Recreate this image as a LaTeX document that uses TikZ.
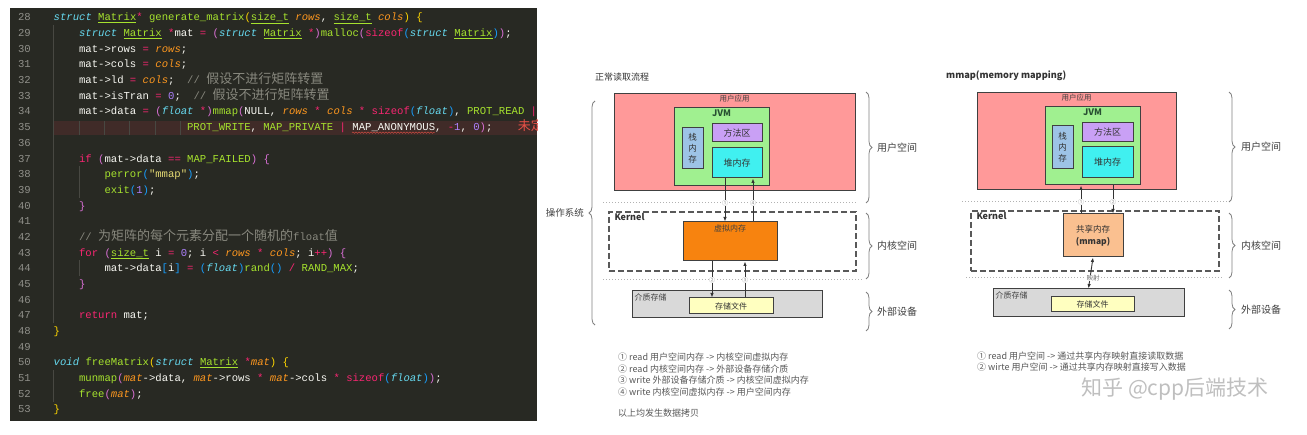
\documentclass[tikz,border=0pt]{standalone}
\usepackage{fontspec}
\setmonofont{Liberation Mono}
\newfontfamily\cjk{Noto Sans CJK SC}
\usetikzlibrary{arrows.meta,decorations.pathreplacing,decorations.pathmorphing}

% 代码配色
\definecolor{codebg}{RGB}{40,41,35}
\definecolor{hlbg}{RGB}{64,43,40}
\definecolor{cTxt}{RGB}{248,248,242}
\definecolor{cNum}{RGB}{144,144,138}
\definecolor{cGuide}{RGB}{72,72,66}
\definecolor{cKey}{RGB}{102,217,239}
\definecolor{cFun}{RGB}{166,226,46}
\definecolor{cOp}{RGB}{249,38,114}
\definecolor{cArg}{RGB}{253,151,31}
\definecolor{cLit}{RGB}{174,129,255}
\definecolor{cCom}{RGB}{136,136,126}
\definecolor{cStr}{RGB}{230,219,116}
\definecolor{cErr}{RGB}{230,80,70}
\definecolor{brY}{RGB}{255,215,0}
\definecolor{brM}{RGB}{218,112,214}
\definecolor{brB}{RGB}{23,159,255}
% 示意图配色
\definecolor{appRed}{RGB}{255,153,153}
\definecolor{jvmGreen}{RGB}{160,240,144}
\definecolor{jvmText}{RGB}{40,80,50}
\definecolor{stkBlue}{RGB}{157,195,230}
\definecolor{mthPurple}{RGB}{201,160,245}
\definecolor{heapCyan}{RGB}{64,240,240}
\definecolor{vmOrange}{RGB}{247,131,15}
\definecolor{shmOrange}{RGB}{250,192,144}
\definecolor{diskGray}{RGB}{217,217,217}
\definecolor{fileYellow}{RGB}{255,255,192}

\newcommand\codetype{\ttfamily\fontsize{10.6}{12}\selectfont}
\newcommand\Zh[1]{{\cjk\fontsize{13}{13}\selectfont #1}}
\newcommand\Ckw[1]{\textcolor{cKey}{\itshape #1}}
\newcommand\Cty[1]{\textcolor{cFun}{\underline{#1}}}
\newcommand\Cfn[1]{\textcolor{cFun}{#1}}
\newcommand\Cop[1]{\textcolor{cOp}{#1}}
\newcommand\Carg[1]{\textcolor{cArg}{\itshape #1}}
\newcommand\Clit[1]{\textcolor{cLit}{#1}}
\newcommand\Ccom[1]{\textcolor{cCom}{#1}}
\newcommand\Cstr[1]{\textcolor{cStr}{#1}}
\newcommand\pY[1]{\textcolor{brY}{#1}}
\newcommand\pM[1]{\textcolor{brM}{#1}}
\newcommand\pB[1]{\textcolor{brB}{#1}}

\begin{document}
\begin{tikzpicture}[x=1pt, y=-1pt,
  code/.style={anchor=base west, inner sep=0pt, font=\codetype, text=cTxt},
  lnum/.style={anchor=base east, inner sep=0pt, font=\codetype, text=cNum},
  guide/.style={draw=cGuide, line width=0.6pt},
  box/.style={draw=black!75, line width=1pt, inner sep=0pt, font=\cjk\fontsize{9}{9}\selectfont, text=black!80},
  lbl/.style={inner sep=1.5pt, font=\cjk\fontsize{7.5}{7.5}\selectfont, text=black!75},
  kbox/.style={draw=black!65, line width=1.4pt, dash pattern=on 6pt off 3pt},
  ktxt/.style={anchor=north west, inner xsep=6pt, inner ysep=2pt, font=\cjk\bfseries\fontsize{9}{9}\selectfont, text=black!80},
  sep/.style={draw=black!30, line width=1pt, dotted},
  arr/.style={-{Latex[length=4.5pt,width=3.5pt]}, line width=0.9pt, draw=black!80},
  cnum/.style={fill=white, inner sep=0.4pt, font=\cjk\fontsize{6}{6}\selectfont, text=black!45},
  brc/.style={decorate, decoration={brace, amplitude=6pt}, draw=black!50, line width=0.8pt},
  side/.style={anchor=west, inner sep=0pt, font=\cjk\fontsize{10}{10}\selectfont, text=black!75},
  leg/.style={anchor=west, inner sep=0pt, align=left, font=\cjk\fontsize{9}{11.7}\selectfont, text=black!65},
  ttl/.style={anchor=west, inner sep=0pt, font=\cjk\fontsize{9}{9}\selectfont, text=black!80}
]
  \def\lh{15.68}
  \fill[white] (0,0) rectangle (1307,435);
  \useasboundingbox (0,0) rectangle (1307,435);

  % 代码截图
  \begin{scope}
    \clip (10,8) rectangle (537,421.5);
    \fill[codebg] (10,8) rectangle (537,421.5);
    \fill[hlbg] (53.5,121.5) rectangle (537,134.6);
    \draw[guide] (53.5,25) -- (53.5,323); \draw[guide] (53.5,370) -- (53.5,402);
    \draw[guide] (78.9,166) -- (78.9,198); \draw[guide] (78.9,260) -- (78.9,276);
    \foreach \gx in {78.9,104.3,129.7,155.1,180.5}
      \draw[guide] (\gx,121.5) -- (\gx,134.6);
    \foreach \n in {28,...,53}
      \node[lnum] (n\n) at (31,{20.9+(\n-28)*\lh}) {\n};

    \node[code] (c28) at (53.5,{20.9+0*\lh}) {\Ckw{struct} \Cty{Matrix}\Cop{*} \Cfn{generate\_matrix}\pY{(}\Cty{size\_t} \Carg{rows}, \Cty{size\_t} \Carg{cols}\pY{)} \pY{\{}};
    \node[code] (c29) at (78.9,{20.9+1*\lh}) {\Ckw{struct} \Cty{Matrix} \Cop{*}mat \Cop{=} \pM{(}\Ckw{struct} \Cty{Matrix} \Cop{*}\pM{)}\Cfn{malloc}\pM{(}\Cop{sizeof}\pB{(}\Ckw{struct} \Cty{Matrix}\pB{)}\pM{)};};
    \node[code] (c30) at (78.9,{20.9+2*\lh}) {mat->rows \Cop{=} \Carg{rows};};
    \node[code] (c31) at (78.9,{20.9+3*\lh}) {mat->cols \Cop{=} \Carg{cols};};
    \node[code] (c32) at (78.9,{20.9+4*\lh}) {mat->ld \Cop{=} \Carg{cols};\ \ \Ccom{// \Zh{假设不进行矩阵转置}}};
    \node[code] (c33) at (78.9,{20.9+5*\lh}) {mat->isTran \Cop{=} \Clit{0};\ \ \Ccom{// \Zh{假设不进行矩阵转置}}};
    \node[code] (c34) at (78.9,{20.9+6*\lh}) {mat->data \Cop{=} \pM{(}\Ckw{float} \Cop{*}\pM{)}\Cfn{mmap}\pM{(}NULL, \Carg{rows} \Cop{*} \Carg{cols} \Cop{*} \Cop{sizeof}\pB{(}\Ckw{float}\pB{)}, \Cfn{PROT\_READ} \Cop{|}};
    \node[code] (c35) at (186.85,{20.9+7*\lh}) {\Cfn{PROT\_WRITE}, \Cfn{MAP\_PRIVATE} \Cop{|} MAP\_ANONYMOUS, \Cop{-}\Clit{1}, \Clit{0}\pM{)};\ \ \ \ \textcolor{cErr}{\Zh{未定义}}};
    \draw[cErr, decorate, decoration={snake, amplitude=0.7pt, segment length=3pt}] (352,132.6) -- (434.6,132.6);
    \node[code] (c37) at (78.9,{20.9+9*\lh}) {\Cop{if} \pM{(}mat->data \Cop{==} \Cfn{MAP\_FAILED}\pM{)} \pM{\{}};
    \node[code] (c38) at (104.3,{20.9+10*\lh}) {\Cfn{perror}\pB{(}\Cstr{"mmap"}\pB{)};};
    \node[code] (c39) at (104.3,{20.9+11*\lh}) {\Cfn{exit}\pB{(}\Clit{1}\pB{)};};
    \node[code] (c40) at (78.9,{20.9+12*\lh}) {\pM{\}}};
    \node[code] (c42) at (78.9,{20.9+14*\lh}) {\Ccom{// \Zh{为矩阵的每个元素分配一个随机的}float\Zh{值}}};
    \node[code] (c43) at (78.9,{20.9+15*\lh}) {\Cop{for} \pM{(}\Cty{size\_t} i \Cop{=} \Clit{0}; i \Cop{<} \Carg{rows} \Cop{*} \Carg{cols}; i\Cop{++}\pM{)} \pM{\{}};
    \node[code] (c44) at (104.3,{20.9+16*\lh}) {mat->data\pB{[}i\pB{]} \Cop{=} \pB{(}\Ckw{float}\pB{)}\Cfn{rand}\pB{()} \Cop{/} \Cfn{RAND\_MAX};};
    \node[code] (c45) at (78.9,{20.9+17*\lh}) {\pM{\}}};
    \node[code] (c47) at (78.9,{20.9+19*\lh}) {\Cop{return} mat;};
    \node[code] (c48) at (53.5,{20.9+20*\lh}) {\pY{\}}};
    \node[code] (c50) at (53.5,{20.9+22*\lh}) {\Ckw{void} \Cfn{freeMatrix}\pY{(}\Ckw{struct} \Cty{Matrix} \Cop{*}\Carg{mat}\pY{)} \pY{\{}};
    \node[code] (c51) at (78.9,{20.9+23*\lh}) {\Cfn{munmap}\pM{(}\Carg{mat}->data, \Carg{mat}->rows \Cop{*} \Carg{mat}->cols \Cop{*} \Cop{sizeof}\pB{(}\Ckw{float}\pB{)}\pM{)};};
    \node[code] (c52) at (78.9,{20.9+24*\lh}) {\Cfn{free}\pM{(}\Carg{mat}\pM{)};};
    \node[code] (c53) at (53.5,{20.9+25*\lh}) {\pY{\}}};
  \end{scope}

  % 正常读取流程
  \node[ttl] (ttlL) at (595,77) {正常读取流程};
  \node[box, fill=appRed, minimum width=241pt, minimum height=97pt] (appL) at (734.5,142.5) {};
  \node[lbl, anchor=north] (appLt) at (appL.north) {用户应用};
  \node[box, fill=jvmGreen, minimum width=95pt, minimum height=78pt] (jvmL) at (721.5,147) {};
  \node[ktxt, anchor=north, text=jvmText] (jvmLt) at (jvmL.north) {JVM};
  \node[box, fill=stkBlue, minimum width=21pt, minimum height=41pt, align=center, font=\cjk\fontsize{8.5}{11}\selectfont] (stkL) at (692.5,148.5) {栈\\内\\存};
  \node[box, fill=mthPurple, minimum width=50pt, minimum height=18pt] (mthL) at (737,133) {方法区};
  \node[box, fill=heapCyan, minimum width=50pt, minimum height=30pt] (hpL) at (737,163) {堆内存};

  \node[kbox, minimum width=247pt, minimum height=59pt] (kerL) at (732.5,241.5) {};
  \node[ktxt] (kerLt) at (kerL.north west) {Kernel};
  \node[box, fill=vmOrange, minimum width=94pt, minimum height=39pt] (vmL) at (730,241.5) {};
  \node[lbl, anchor=north, inner sep=3pt, font=\cjk\fontsize{8}{8}\selectfont] (vmLt) at (vmL.north) {虚拟内存};

  \node[box, fill=diskGray, minimum width=190pt, minimum height=27pt] (dskL) at (727,304.5) {};
  \node[lbl, anchor=north west, inner sep=3pt, font=\cjk\fontsize{8}{8}\selectfont] (dskLt) at (dskL.north west) {介质存储};
  \node[box, fill=fileYellow, minimum width=84pt, minimum height=16pt, font=\cjk\fontsize{8}{8}\selectfont] (fL) at (731,306) {存储文件};

  \coordinate (sL1a) at (603,203); \coordinate (sL1b) at (857,203);
  \coordinate (sL2a) at (603,280); \coordinate (sL2b) at (862,280);
  \draw[sep] (sL1a) -- (sL1b); \draw[sep] (sL2a) -- (sL2b);

  \coordinate (aL1) at ([xshift=-12pt]hpL.south);
  \coordinate (aL4) at ([xshift=16pt]hpL.south);
  \coordinate (aL2) at ([xshift=-18pt]vmL.south);
  \coordinate (aL3) at ([xshift=15pt]vmL.south);
  \draw[arr] (aL1) -- (aL1 |- vmL.north);
  \draw[arr] (aL4 |- vmL.north) -- (aL4);
  \draw[arr] (aL2) -- (aL2 |- fL.north);
  \draw[arr] (aL3 |- fL.north) -- (aL3);
  \node[cnum] (nL1) at (aL1 |- sL1a) {①};
  \node[cnum] (nL4) at (aL4 |- sL1a) {④};
  \node[cnum] (nL2) at (aL2 |- sL2a) {②};
  \node[cnum] (nL3) at (aL3 |- sL2a) {③};

  \draw[brc] (595,325) -- (595,101);
  \node[side, anchor=east, font=\cjk\fontsize{9.5}{9.5}\selectfont] (osL) at (584,213) {操作系统};
  \draw[brc] (866,92) -- (866,203);
  \draw[brc] (866,213) -- (866,279);
  \draw[brc] (866,292) -- (866,331);
  \node[side] (usrL) at (877,147.5) {用户空间};
  \node[side] (kspL) at (877,246) {内核空间};
  \node[side] (devL) at (877,311.5) {外部设备};

  \node[leg] (legL) at (618,374.5) {① read 用户空间内存 -> 内核空间虚拟内存\\② read 内核空间内存 -> 外部设备存储介质\\③ write 外部设备存储介质 -> 内核空间虚拟内存\\④ write 内核空间虚拟内存 -> 用户空间内存};
  \node[leg] (noteL) at (618,413) {以上均发生数据拷贝};

  % mmap
  \node[ttl, font=\cjk\bfseries\fontsize{9.2}{9.2}\selectfont] (ttlR) at (946,76) {mmap(memory mapping)};
  \node[box, fill=appRed, minimum width=199pt, minimum height=97pt] (appR) at (1076.5,141.5) {};
  \node[lbl, anchor=north] (appRt) at (appR.north) {用户应用};
  \node[box, fill=jvmGreen, minimum width=95pt, minimum height=78pt] (jvmR) at (1092.5,146) {};
  \node[ktxt, anchor=north, text=jvmText] (jvmRt) at (jvmR.north) {JVM};
  \node[box, fill=stkBlue, minimum width=21pt, minimum height=43pt, align=center, font=\cjk\fontsize{8.5}{11}\selectfont] (stkR) at (1062.5,147.5) {栈\\内\\存};
  \node[box, fill=mthPurple, minimum width=51pt, minimum height=19pt] (mthR) at (1107.5,132.5) {方法区};
  \node[box, fill=heapCyan, minimum width=51pt, minimum height=31pt] (hpR) at (1107.5,162.5) {堆内存};

  \node[kbox, minimum width=248pt, minimum height=60pt] (kerR) at (1095,241) {};
  \node[ktxt] (kerRt) at (kerR.north west) {Kernel};
  \node[box, fill=shmOrange, minimum width=60pt, minimum height=43pt, align=center, font=\cjk\fontsize{8.5}{12}\selectfont] (shmR) at (1093,235.5) {共享内存\\\textbf{(mmap)}};

  \node[box, fill=diskGray, minimum width=191pt, minimum height=28pt] (dskR) at (1088.5,303) {};
  \node[lbl, anchor=north west, inner sep=3pt, font=\cjk\fontsize{8}{8}\selectfont] (dskRt) at (dskR.north west) {介质存储};
  \node[box, fill=fileYellow, minimum width=83pt, minimum height=15pt, font=\cjk\fontsize{8}{8}\selectfont] (fR) at (1092.5,304.5) {存储文件};

  \coordinate (sR1a) at (962,202); \coordinate (sR1b) at (1228,202);
  \coordinate (sR2a) at (966,278); \coordinate (sR2b) at (1223,278);
  \draw[sep] (sR1a) -- (sR1b); \draw[sep] (sR2a) -- (sR2b);

  \coordinate (aR1) at ([xshift=-11.5pt]jvmR.south);
  \coordinate (aR2) at ([xshift=20.5pt]jvmR.south);
  \draw[arr] (aR1 |- shmR.north) -- (aR1);
  \draw[arr] (aR2) -- (aR2 |- shmR.north);
  \draw[arr, {Latex[length=4.5pt,width=3.5pt]}-{Latex[length=4.5pt,width=3.5pt]}] (shmR.south) -- (dskR.north);
  \node[cnum] (nR1) at (aR1 |- sR1a) {①};
  \node[cnum] (nR2) at (aR2 |- sR1a) {②};
  \node[cnum, font=\cjk\fontsize{6.5}{6.5}\selectfont, text=black!55] (mapR) at (shmR.south |- sR2a) {映射};

  \draw[brc] (1229,92) -- (1229,202);
  \draw[brc] (1229,213) -- (1229,278);
  \draw[brc] (1229,290) -- (1229,329);
  \node[side] (usrR) at (1241,147) {用户空间};
  \node[side] (kspR) at (1241,245.5) {内核空间};
  \node[side] (devR) at (1241,309.5) {外部设备};

  \node[leg] (legR) at (977,361.5) {① read 用户空间 -> 通过共享内存映射直接读取数据\\② wirte 用户空间 -> 通过共享内存映射直接写入数据};
  \node[font=\cjk\fontsize{21}{21}\selectfont, text=black!25, inner sep=0pt] (wm) at (1175,389) {知乎 @cpp后端技术};
\end{tikzpicture}
\end{document}
